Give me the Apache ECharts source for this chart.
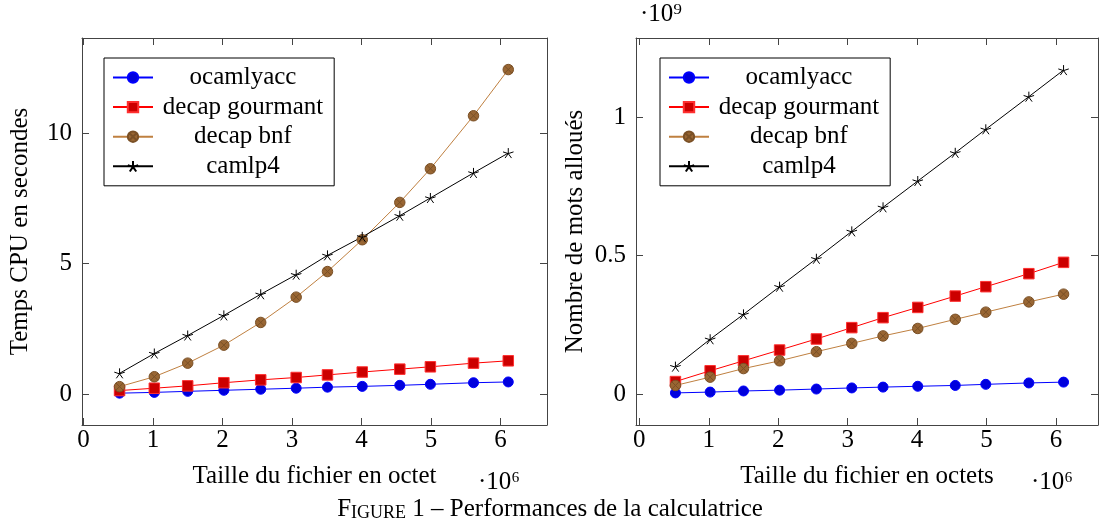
<!DOCTYPE html>
<html>
<head>
<meta charset="utf-8">
<script src="https://cdn.jsdelivr.net/npm/echarts@6/dist/echarts.min.js"></script>
<style>
html,body{margin:0;padding:0;background:#fff;}
#chart{width:1100px;height:518px;}
</style>
</head>
<body>
<div id="chart"></div>
<script>
// File sizes (x, in units of 10^6 octets)
const fileSizes = [0.52, 1.02, 1.5, 2.02, 2.55, 3.06, 3.51, 4.01, 4.55, 4.99, 5.61, 6.11];

// Left chart: CPU time (seconds)
const cpuOcamlyacc      = [0.03, 0.06, 0.10, 0.14, 0.18, 0.22, 0.26, 0.29, 0.33, 0.37, 0.43, 0.46];
const cpuDecapGourmant  = [0.13, 0.22, 0.31, 0.43, 0.54, 0.63, 0.73, 0.84, 0.95, 1.04, 1.18, 1.27];
const cpuDecapBnf       = [0.28, 0.66, 1.18, 1.87, 2.74, 3.71, 4.69, 5.91, 7.34, 8.63, 10.66, 12.43];
const cpuCamlp4         = [0.79, 1.55, 2.24, 3.01, 3.82, 4.57, 5.31, 6.02, 6.83, 7.51, 8.47, 9.23];

// Right chart: allocated words (in units of 10^9)
const memOcamlyacc      = [0.004, 0.007, 0.011, 0.014, 0.018, 0.022, 0.025, 0.028, 0.031, 0.035, 0.040, 0.043];
const memDecapGourmant  = [0.045, 0.084, 0.120, 0.159, 0.199, 0.240, 0.276, 0.313, 0.354, 0.388, 0.435, 0.476];
const memDecapBnf       = [0.031, 0.061, 0.092, 0.120, 0.153, 0.183, 0.210, 0.237, 0.270, 0.296, 0.333, 0.361];
const memCamlp4         = [0.099, 0.198, 0.288, 0.388, 0.489, 0.588, 0.675, 0.770, 0.872, 0.957, 1.075, 1.171];

// Tick labels
const xTicks = [0, 1, 2, 3, 4, 5, 6];
const yTicksCpu = [0, 5, 10];
const yTicksMem = [0, 0.5, 1];

const seriesNames = ['ocamlyacc', 'decap gourmant', 'decap bnf', 'camlp4'];

const FONT = '"Liberation Serif", "DejaVu Serif", serif';
const FS = 25;
const AX = '#444';

const STAR = 'path://M0,0L0,-5M0,0L-4.755,-1.545M0,0L-2.939,4.045M0,0L2.939,4.045M0,0L4.755,-1.545';
const OTIMES = 'path://M10,0A10,10,0,1,1,-10,0A10,10,0,1,1,10,0ZM-7.07,-7.07L7.07,7.07M-7.07,7.07L7.07,-7.07';

const styles = [
  {symbol: 'circle', symbolSize: 10, line: '#0000ff', fill: '#0000dd', border: '#0000ff', bw: 1},
  {symbol: 'rect', symbolSize: 10.5, line: '#ff0000', fill: '#cc0000', border: '#ff3030', bw: 1},
  {symbol: OTIMES, symbolSize: 10.5, line: '#bf8040', fill: '#996633', border: '#7a5026', bw: 1},
  {symbol: STAR, symbolSize: 10.5, line: '#000000', fill: '#000000', border: '#000000', bw: 1}
];

function zip(xs, ys) { return xs.map((x, i) => [x, ys[i]]); }

function makeSeries(dataArrays, axisIndex) {
  return dataArrays.map((ys, i) => ({
    name: seriesNames[i],
    type: 'line',
    xAxisIndex: axisIndex,
    yAxisIndex: axisIndex,
    data: zip(fileSizes, ys),
    symbol: styles[i].symbol,
    symbolSize: styles[i].symbolSize,
    symbolKeepAspect: true,
    showAllSymbol: true,
    animation: false,
    lineStyle: {color: styles[i].line, width: 1},
    itemStyle: {color: styles[i].fill, borderColor: styles[i].border, borderWidth: styles[i].bw, opacity: 1},
    emphasis: {disabled: true}
  }));
}

function xAxisDef(grid, pos, min, max, showLabels, name) {
  return {
    type: 'value', gridIndex: grid, position: pos, min: min, max: max,
    axisLine: {show: true, onZero: false, lineStyle: {color: AX, width: 1}},
    axisTick: {show: true, inside: true, length: 7, customValues: xTicks, lineStyle: {color: AX, width: 1}},
    axisLabel: {show: showLabels, customValues: xTicks, fontFamily: FONT, fontSize: FS, color: '#000', margin: 3},
    splitLine: {show: false},
    name: name || '', nameLocation: 'middle', nameGap: 39,
    nameTextStyle: {fontFamily: FONT, fontSize: FS, color: '#000'}
  };
}

function yAxisDef(grid, pos, min, max, ticks, showLabels, name, gap) {
  return {
    type: 'value', gridIndex: grid, position: pos, min: min, max: max,
    axisLine: {show: true, onZero: false, lineStyle: {color: AX, width: 1}},
    axisTick: {show: true, inside: true, length: 7, customValues: ticks, lineStyle: {color: AX, width: 1}},
    axisLabel: {show: showLabels, customValues: ticks, fontFamily: FONT, fontSize: FS, color: '#000', margin: 10},
    splitLine: {show: false},
    name: name || '', nameLocation: 'middle', nameGap: gap || 49, nameRotate: 90,
    nameTextStyle: {fontFamily: FONT, fontSize: FS, color: '#000'}
  };
}

function legendDef(left) {
  return {
    show: true, orient: 'vertical', left: left, top: 58,
    data: seriesNames,
    itemWidth: 40, itemHeight: 13, itemGap: 4.6, itemTextGap: 5,
    padding: [7, 11, 7, 8],
    borderColor: '#000', borderWidth: 1, backgroundColor: '#fff',
    selectedMode: false,
    formatter: n => '{c|' + n + '}',
    textStyle: {
      rich: {c: {width: 170, align: 'center', fontFamily: FONT, fontSize: FS, color: '#000'}}
    }
  };
}

const chart = echarts.init(document.getElementById('chart'), null, {renderer: 'canvas'});

chart.setOption({
  animation: false,
  backgroundColor: '#fff',
  grid: [
    {left: 82, top: 38, width: 465, height: 387},
    {left: 636, top: 38, width: 462, height: 387}
  ],
  xAxis: [
    xAxisDef(0, 'bottom', -0.02, 6.667, true, 'Taille du fichier en octet'),
    xAxisDef(0, 'top', -0.02, 6.667, false),
    xAxisDef(1, 'bottom', -0.048, 6.606, true, 'Taille du fichier en octets'),
    xAxisDef(1, 'top', -0.048, 6.606, false)
  ],
  yAxis: [
    yAxisDef(0, 'left', -1.19, 13.64, yTicksCpu, true, 'Temps CPU en secondes', 49.5),
    yAxisDef(0, 'right', -1.19, 13.64, yTicksCpu, false),
    yAxisDef(1, 'left', -0.112, 1.287, yTicksMem, true, 'Nombre de mots alloués', 48.5),
    yAxisDef(1, 'right', -0.112, 1.287, yTicksMem, false)
  ],
  legend: [legendDef(104), legendDef(660)],
  series: [].concat(
    makeSeries([cpuOcamlyacc, cpuDecapGourmant, cpuDecapBnf, cpuCamlp4], 0),
    makeSeries([memOcamlyacc, memDecapGourmant, memDecapBnf, memCamlp4], 2)
  ),
  graphic: [
    {type: 'text', left: 478, top: 470, style: {text: '·10⁶', font: FS + 'px ' + FONT, fill: '#000'}},
    {type: 'text', left: 1031, top: 470, style: {text: '·10⁶', font: FS + 'px ' + FONT, fill: '#000'}},
    {type: 'text', left: 640, top: 2, style: {text: '·10⁹', font: FS + 'px ' + FONT, fill: '#000'}},
    {type: 'text', left: 'center', top: 497, style: {
      text: '{a|F}{b|IGURE}{a| 1 – Performances de la calculatrice}',
      rich: {
        a: {fontFamily: FONT, fontSize: FS, lineHeight: FS, verticalAlign: 'bottom', fill: '#000'},
        b: {fontFamily: FONT, fontSize: 18, lineHeight: 18, verticalAlign: 'bottom', fill: '#000'}
      }
    }}
  ]
});
</script>
</body>
</html>
